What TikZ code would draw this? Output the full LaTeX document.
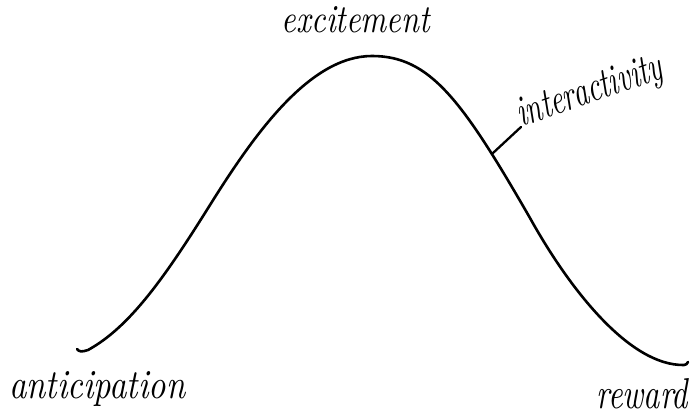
\documentclass[tikz,border=0pt]{standalone}
\usepackage{graphicx}
\tikzset{
  curve/.style={line width=2.6pt, line cap=round, line join=round},
  tick/.style={line width=2.3pt, line cap=round},
  lbl/.style={inner sep=0pt, font=\itshape}
}
\begin{document}
\begin{tikzpicture}[x=1pt,y=-1pt]
\useasboundingbox[fill=white] (0,0) rectangle (699,417);
\draw[curve] (77,349) .. controls (79,352) and (82,352) .. (88,350)
  .. controls (130,327) and (165,277) .. (210,205)
  .. controls (255,133) and (310,56) .. (372,56)
  .. controls (430,56) and (462,100) .. (530,218)
  .. controls (570,290) and (630,366) .. (684,365)
  .. controls (686,365) and (687,364) .. (688,362);
\coordinate (junc) at (493,153);
\node[lbl, anchor=base west, rotate=19] (inter) at (521,127)
  {\resizebox{152pt}{28pt}{interactivity}};
\draw[tick] (junc) -- (inter.base west);
\node[lbl, anchor=base] (exc) at (356,33) {\resizebox{148pt}{26pt}{excitement}};
\node[lbl, anchor=base west] (ant) at (9,398) {\resizebox{176pt}{27pt}{anticipation}};
\node[lbl, anchor=base west] (rew) at (596,408) {\resizebox{92pt}{30pt}{reward}};
\end{tikzpicture}
\end{document}
